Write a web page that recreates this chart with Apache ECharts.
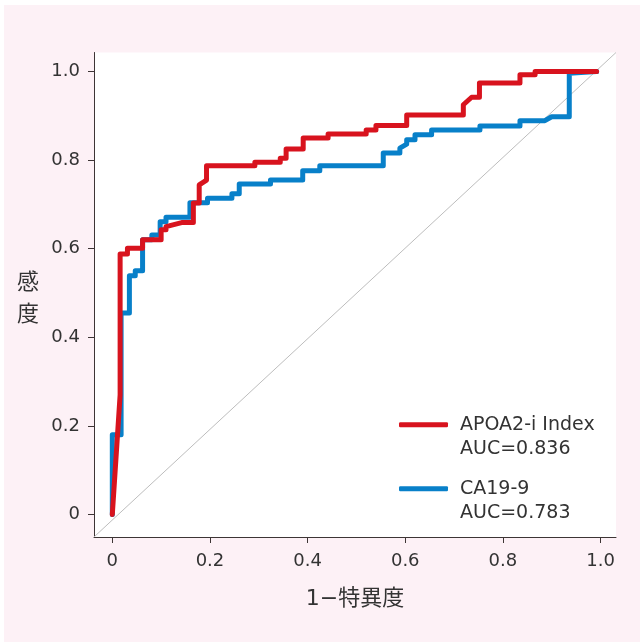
<!DOCTYPE html>
<html>
<head>
<meta charset="utf-8">
<title>ROC</title>
<script src="https://cdn.jsdelivr.net/npm/echarts@6/dist/echarts.min.js"></script>
<style>
html, body { margin: 0; padding: 0; background: #fff; }
#chart { width: 640px; height: 642px; }
</style>
</head>
<body>
<div id="chart"></div>
<script>
// names / AUC shown in legend
var seriesNames = ['APOA2-i Index', 'CA19-9'];
var aucValues = ['0.836', '0.783'];

var tickValues = [0, 0.2, 0.4, 0.6, 0.8, 1.0];
var tickLabels = ['0', '0.2', '0.4', '0.6', '0.8', '1.0'];

// APOA2-i Index curve (1-specificity, sensitivity)
var apoaFpr = [0, 0.016, 0.016, 0.031, 0.031, 0.062, 0.062, 0.100, 0.100, 0.110, 0.110, 0.142, 0.166, 0.166, 0.178,
    0.178, 0.193, 0.193, 0.292, 0.292, 0.344, 0.344, 0.356, 0.356, 0.391, 0.391, 0.442, 0.442, 0.520, 0.520,
    0.540, 0.540, 0.603, 0.603, 0.719, 0.719, 0.736, 0.752, 0.752, 0.835, 0.835, 0.866, 0.866, 0.992];
var apoaTpr = [0, 0.27, 0.588, 0.588, 0.601, 0.601, 0.620, 0.620, 0.643, 0.643, 0.650, 0.659, 0.659, 0.703, 0.703,
    0.744, 0.755, 0.787, 0.787, 0.795, 0.795, 0.804, 0.804, 0.825, 0.825, 0.850, 0.850, 0.859, 0.859, 0.868,
    0.868, 0.878, 0.878, 0.902, 0.902, 0.925, 0.942, 0.942, 0.974, 0.974, 0.993, 0.993, 1.0, 1.0];

// CA19-9 curve
var caFpr = [0, 0, 0.018, 0.018, 0.035, 0.035, 0.047, 0.047, 0.062, 0.062, 0.081, 0.081, 0.098, 0.098, 0.110,
    0.110, 0.159, 0.159, 0.195, 0.195, 0.245, 0.245, 0.260, 0.260, 0.324, 0.324, 0.390, 0.390, 0.425, 0.425,
    0.555, 0.555, 0.589, 0.589, 0.603, 0.603, 0.620, 0.620, 0.654, 0.654, 0.753, 0.753, 0.835, 0.835, 0.886,
    0.900, 0.936, 0.936, 0.992];
var caTpr = [0, 0.18, 0.18, 0.455, 0.455, 0.539, 0.539, 0.550, 0.550, 0.620, 0.620, 0.631, 0.631, 0.661, 0.661,
    0.671, 0.671, 0.704, 0.704, 0.714, 0.714, 0.724, 0.724, 0.746, 0.746, 0.755, 0.755, 0.776, 0.776, 0.787,
    0.787, 0.816, 0.816, 0.827, 0.836, 0.846, 0.846, 0.857, 0.857, 0.868, 0.868, 0.877, 0.877, 0.889, 0.889,
    0.898, 0.898, 0.996, 1.0];

var xMin = -0.0375, xMax = 1.0317;
var yMin = -0.051, yMax = 1.043;

var textColor = '#333';
var axisColor = '#3d3535';
var fontFam = "'DejaVu Sans', 'Noto Sans CJK JP', sans-serif";

function zip(a, b) {
    var out = [];
    for (var i = 0; i < a.length; i++) out.push([a[i], b[i]]);
    return out;
}

// one legend per series so each can be placed on its own
function legendOpt(name, top) {
    return {
        data: [name],
        left: 399,
        top: top,
        padding: 0,
        itemWidth: 49,
        itemHeight: 5,
        icon: 'roundRect',
        selectedMode: false,
        formatter: function (n) {
            // leading blank line keeps the icon level with the name line
            return '\n' + n + '\n' + 'AUC=' + aucValues[seriesNames.indexOf(n)];
        },
        textStyle: {
            fontFamily: fontFam,
            fontSize: 19,
            lineHeight: 24.5,
            color: textColor,
            padding: [0, 0, 0, 7]
        }
    };
}

var chart = echarts.init(document.getElementById('chart'), null, {renderer: 'canvas'});

chart.setOption({
    animation: false,
    textStyle: {fontFamily: fontFam},
    graphic: [{
        type: 'rect',
        left: 4, top: 5,
        shape: {width: 636, height: 637},
        style: {fill: '#fdf1f6'},
        z: -10
    }],
    grid: {
        left: 94, right: 24, top: 52.5, bottom: 105,
        show: true, backgroundColor: '#fff', borderWidth: 0,
        outerBoundsMode: 'none'
    },
    legend: [legendOpt(seriesNames[0], 388), legendOpt(seriesNames[1], 452)],
    xAxis: {
        type: 'value', min: xMin, max: xMax,
        name: '1−特異度',
        nameLocation: 'middle',
        nameGap: 51,
        nameTextStyle: {fontSize: 22, color: textColor, fontFamily: fontFam},
        axisLine: {onZero: false, lineStyle: {color: axisColor, width: 1}},
        axisTick: {show: true, length: 6, customValues: tickValues, lineStyle: {color: axisColor}},
        axisLabel: {
            customValues: tickValues, margin: 15, fontSize: 18, color: textColor, fontFamily: fontFam,
            formatter: function (v) { return tickLabels[tickValues.indexOf(v)]; }
        },
        splitLine: {show: false}
    },
    yAxis: {
        type: 'value', min: yMin, max: yMax,
        name: '{top|感}\n{bot|度}',
        nameLocation: 'middle',
        nameRotate: 0,
        nameGap: 55,
        nameTextStyle: {
            fontSize: 22, lineHeight: 32, color: textColor, fontFamily: fontFam,
            rich: {
                top: {fontSize: 22, lineHeight: 32, color: textColor, padding: [10, 0, 0, 0]},
                bot: {fontSize: 22, lineHeight: 32, color: textColor, padding: [10, 0, 0, 0]}
            }
        },
        axisLine: {show: true, onZero: false, lineStyle: {color: axisColor, width: 1}},
        axisTick: {show: true, length: 6, customValues: tickValues, lineStyle: {color: axisColor}},
        axisLabel: {
            customValues: tickValues, margin: 14, fontSize: 18, color: textColor, fontFamily: fontFam,
            formatter: function (v) { return tickLabels[tickValues.indexOf(v)]; }
        },
        splitLine: {show: false}
    },
    series: [{
        name: 'ref',
        type: 'line',
        data: [[xMin, yMin], [xMax, yMax]],
        showSymbol: false,
        silent: true,
        lineStyle: {color: '#bdbdbd', width: 1},
        z: 1
    }, {
        name: seriesNames[1],
        type: 'line',
        data: zip(caFpr, caTpr),
        showSymbol: false,
        itemStyle: {color: '#0880c9'},
        lineStyle: {color: '#0880c9', width: 5, cap: 'round', join: 'round'},
        z: 2
    }, {
        name: seriesNames[0],
        type: 'line',
        data: zip(apoaFpr, apoaTpr),
        showSymbol: false,
        itemStyle: {color: '#d8131e'},
        lineStyle: {color: '#d8131e', width: 5, cap: 'round', join: 'round'},
        z: 3
    }]
});
</script>
</body>
</html>
